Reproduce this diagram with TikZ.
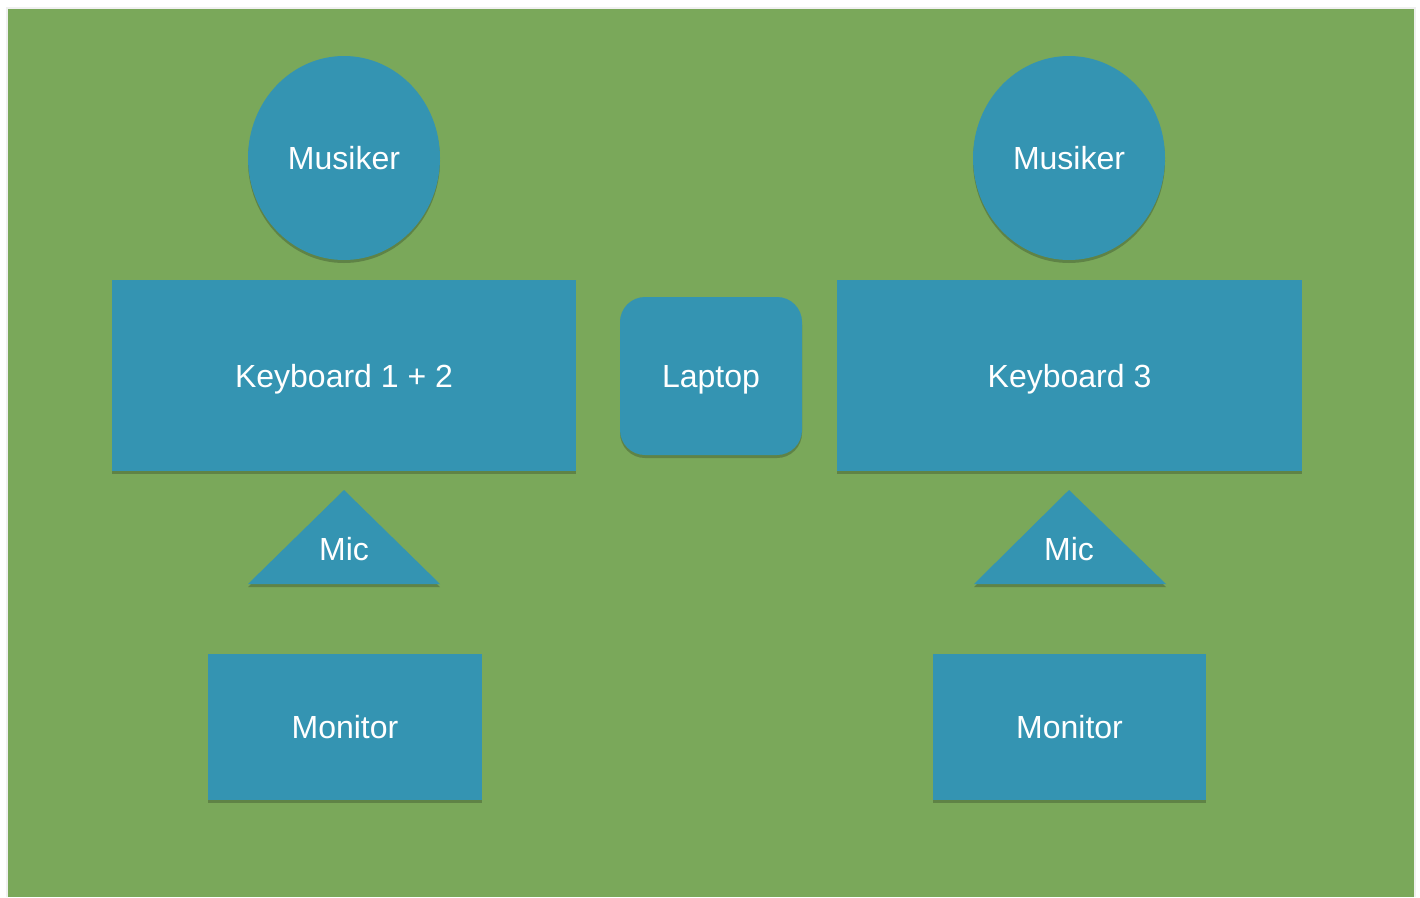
\documentclass[tikz,border=0pt]{standalone}
\usepackage{fontspec}
\setmainfont{Liberation Sans}
\usetikzlibrary{shapes.geometric,shadows,positioning}
\definecolor{bggreen}{RGB}{122,168,90}
\definecolor{boxblue}{RGB}{52,148,178}
\tikzset{
  lbl/.style={text=white, font=\fontsize{32}{38}\selectfont, text height=23pt, text depth=0pt},
  item/.style={fill=boxblue, draw=none, lbl,
    drop shadow={shadow xshift=0pt, shadow yshift=-3pt, opacity=0.22, fill=black}},
  rectbox/.style={item, rectangle, inner sep=0pt},
  roundbox/.style={item, rectangle, rounded corners=25pt, inner sep=0pt},
  circbox/.style={item, ellipse, inner sep=0pt},
}
\begin{document}
\begin{tikzpicture}[x=1pt,y=-1pt]
\useasboundingbox (0,0) rectangle (1420,897);
\fill[black!6] (6,7) rectangle (1416,897);
\fill[bggreen] (8,9) rectangle (1414,897);
% musicians
\node[circbox, minimum width=192pt, minimum height=204pt] (mus1) at (344,158) {Musiker};
\node[circbox, minimum width=192pt, minimum height=204pt] (mus2) at (1069,158) {Musiker};
% keyboards
\node[rectbox, minimum width=464pt, minimum height=191pt] (kb1) at (344,375.5) {Keyboard 1 + 2};
\node[rectbox, minimum width=465pt, minimum height=191pt] (kb3) at (1069.5,375.5) {Keyboard 3};
% laptop
\node[roundbox, minimum width=182pt, minimum height=158pt] (lap) at (711,376) {Laptop};
% mics
\path[item] (344,490) -- (440,584) -- (248,584) -- cycle;
\node[lbl] (mic1) at (344,549) {Mic};
\path[item] (1069,490) -- (1166,584) -- (974,584) -- cycle;
\node[lbl] (mic2) at (1069,549) {Mic};
% monitors
\node[rectbox, minimum width=274pt, minimum height=146pt] (mon1) at (345,727) {Monitor};
\node[rectbox, minimum width=273pt, minimum height=146pt] (mon2) at (1069.5,727) {Monitor};
\end{tikzpicture}
\end{document}
